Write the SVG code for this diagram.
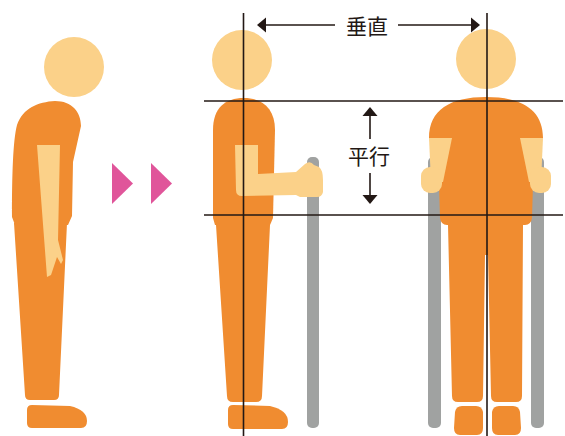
<svg xmlns="http://www.w3.org/2000/svg" width="565" height="436" viewBox="0 0 565 436">
  <style>
    .body { fill: #F08C30; }
    .skin { fill: #FBD189; }
    .pole { fill: #A0A2A1; }
    .guide { stroke: #231815; stroke-width: 1.6; fill: none; }
    .head { fill: #231815; }
    .label { font-family: "Noto Sans CJK JP", "Noto Sans CJK SC", sans-serif; font-size: 21px; fill: #231815; text-anchor: middle; dominant-baseline: central; }
    .cue { fill: #E0559A; }
  </style>
  <rect width="565" height="436" fill="#ffffff"/>

  <!-- Stooped posture, side view -->
  <g id="figure-stooped">
    <circle class="skin" cx="74" cy="67" r="30"/>
    <path class="body" d="M14,223 L67,223 L59,395 Q59,400 54,400 L30,400 Q25,400 25,395 Z"/>
    <path class="body" d="M27,410 Q27,405 32,405 L70,406 Q87,410 87,421 Q87,428 81,428 L32,428 Q27,428 27,423 Z"/>
    <path class="body" d="M15,225 L12,217 C12,175 13,140 17,125 C23,108 38,102 55,101 C72,101 81,112 81,126 L73,162 L72,216 L68,225 Z"/>
    <path class="skin" d="M37,145 L60,145 L58,240 L63,260 L61,264 L57,257 L51,275 L47,277 Z"/>
  </g>

  <!-- Direction cues -->
  <g id="cue-arrows">
    <polygon class="cue" points="112,163 133,183.5 112,204"/>
    <polygon class="cue" points="151,163 172,183.5 151,204"/>
  </g>

  <!-- Upright posture with cane, side view -->
  <g id="figure-cane">
    <circle class="skin" cx="242" cy="60" r="30"/>
    <path class="body" d="M216,225 L270,225 L262,396 Q262,402 256,402 L233,402 Q227,402 227,396 Z"/>
    <path class="body" d="M228,410 Q228,405 233,405 L270,406 Q288,410 288,422 Q288,429 282,429 L233,429 Q228,429 228,424 Z"/>
    <path class="body" d="M215,225 L213,218 L213,130 C213,108 225,98 244,98 C262,98 275,108 275,130 L273,218 L270,225 Z"/>
    <rect class="pole" x="307" y="157" width="12" height="271" rx="5"/>
    <path class="skin" d="M235,145 L258,145 L258,174 L296,172 L305,164 Q310,160 314,165 L319,167 Q323,170 323,180 L323,192 Q322,197 317,197 L300,197 L296,195 L242,196 Q236,196 236,190 Z"/>
  </g>

  <!-- Upright posture with two crutches, front view -->
  <g id="figure-crutches">
    <circle class="skin" cx="486" cy="59" r="30"/>
    <rect class="pole" x="428" y="157" width="13" height="271" rx="5"/>
    <rect class="pole" x="531" y="157" width="13" height="271" rx="5"/>
    <path class="body" d="M448,225 L523,225 L522,396 Q522,402 516,402 L497,402 Q491,402 491,396 L488,255 L485,255 L483,396 Q483,402 477,402 L458,402 Q452,402 452,396 Z"/>
    <path class="body" d="M455,412 Q456,406 462,406 L476,406 Q482,406 483,412 L483,428 Q483,435 477,435 L460,435 Q454,435 454,428 Z"/>
    <path class="body" d="M492,412 Q493,406 499,406 L513,406 Q519,406 520,412 L521,428 Q521,435 515,435 L498,435 Q492,435 492,428 Z"/>
    <path class="body" d="M429,138 C429,110 450,97 486,97 C522,97 543,110 543,138 L534,150 L532,218 Q531,225 525,225 L447,225 Q441,225 440,218 L438,150 Z"/>
    <path class="skin" d="M429,138 L452,138 L443,182 L431,182 Z"/>
    <rect class="skin" x="421" y="167" width="21" height="26" rx="9"/>
    <path class="skin" d="M543,138 L520,138 L529,182 L541,182 Z"/>
    <rect class="skin" x="530" y="167" width="21" height="26" rx="9"/>
  </g>

  <!-- Reference lines and dimension arrows -->
  <g id="connectors">
    <line class="guide" x1="243.5" y1="13" x2="243.5" y2="436"/>
    <line class="guide" x1="487" y1="13" x2="487" y2="436"/>
    <line class="guide" x1="204" y1="101" x2="563" y2="101"/>
    <line class="guide" x1="204" y1="215" x2="563" y2="215"/>

    <line class="guide" x1="262" y1="25" x2="335" y2="25"/>
    <polygon class="head" points="257,25 266,17.5 266,32.5"/>
    <line class="guide" x1="398" y1="25" x2="475" y2="25"/>
    <polygon class="head" points="480,25 471,17.5 471,32.5"/>

    <line class="guide" x1="370" y1="112" x2="370" y2="139"/>
    <polygon class="head" points="370,107 362.5,116 377.5,116"/>
    <line class="guide" x1="370" y1="173" x2="370" y2="199"/>
    <polygon class="head" points="370,204 362.5,195 377.5,195"/>
  </g>

  <g id="labels">
    <text class="label" x="367" y="25">垂直</text>
    <text class="label" x="369" y="155">平行</text>
  </g>
</svg>
